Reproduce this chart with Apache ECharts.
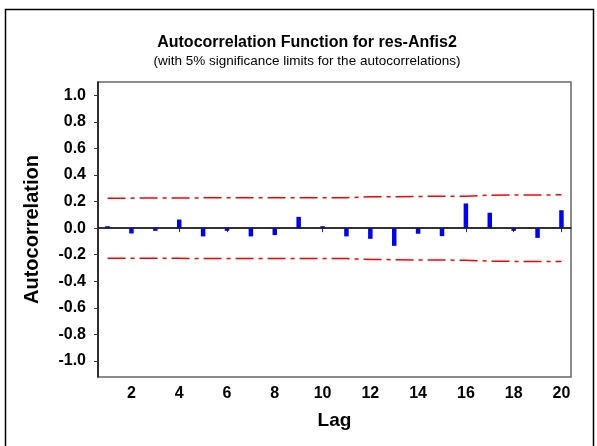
<!DOCTYPE html>
<html>
<head>
<meta charset="utf-8">
<script src="https://cdn.jsdelivr.net/npm/echarts@6/dist/echarts.min.js"></script>
<style>
    html, body { margin: 0; padding: 0; background: #fff; }
    #acf-chart { width: 597px; height: 446px; }
</style>
</head>
<body>
<div id="acf-chart"></div>
<script>
    // Chart data
    const lags = [1, 2, 3, 4, 5, 6, 7, 8, 9, 10, 11, 12, 13, 14, 15, 16, 17, 18, 19, 20];
    const acfValues = [0.015, -0.04, -0.02, 0.065, -0.062, -0.02, -0.062, -0.052, 0.085, 0.015,
                       -0.062, -0.08, -0.133, -0.042, -0.06, 0.186, 0.116, -0.02, -0.073, 0.135];
    const upperLimit = [0.226, 0.226, 0.227, 0.227, 0.228, 0.228, 0.228, 0.228, 0.229, 0.229,
                        0.229, 0.236, 0.237, 0.239, 0.240, 0.241, 0.248, 0.250, 0.250, 0.251];
    const lowerLimit = [-0.226, -0.226, -0.227, -0.227, -0.228, -0.228, -0.228, -0.228, -0.229, -0.229,
                        -0.229, -0.236, -0.237, -0.239, -0.240, -0.241, -0.248, -0.250, -0.250, -0.251];
    const lagTicks = [2, 4, 6, 8, 10, 12, 14, 16, 18, 20];
    const acfTicks = [-1.0, -0.8, -0.6, -0.4, -0.2, 0.0, 0.2, 0.4, 0.6, 0.8, 1.0];

    let chart = echarts.init(document.getElementById('acf-chart'));

    const boldFont = { fontFamily: 'Liberation Sans', fontWeight: 'bold', color: '#000' };
    const limitDash = [18, 5, 4, 5];

    let option = {
        animation: false,
        title: {
            text: 'Autocorrelation Function for res-Anfis2',
            subtext: '(with 5% significance limits for the autocorrelations)',
            left: 302,
            top: 30,
            textAlign: 'center',
            itemGap: 3,
            textStyle: { ...boldFont, fontSize: 16 },
            subtextStyle: { fontFamily: 'Liberation Sans', fontSize: 13.5, color: '#000' }
        },
        graphic: [{
            // outer frame
            type: 'rect',
            shape: { x: 5.5, y: 9.5, width: 588, height: 460 },
            style: { fill: 'none', stroke: '#000', lineWidth: 1.5 },
            silent: true
        }],
        grid: {
            left: 98, right: 26, top: 82, bottom: 69,
            show: true,
            borderColor: '#666',
            borderWidth: 1.5
        },
        xAxis: {
            type: 'value',
            min: 0.6,
            max: 20.4,
            name: 'Lag',
            nameLocation: 'middle',
            nameGap: 34,
            nameTextStyle: { ...boldFont, fontSize: 19 },
            axisLine: { lineStyle: { color: '#333', width: 1.5 } },
            axisTick: { customValues: lagTicks, length: 4, lineStyle: { color: '#333' } },
            axisLabel: { customValues: lagTicks, margin: 9, ...boldFont, fontSize: 16 },
            splitLine: { show: false }
        },
        yAxis: {
            type: 'value',
            min: -1.12,
            max: 1.1,
            name: 'Autocorrelation',
            nameLocation: 'middle',
            nameGap: 56,
            nameTextStyle: { ...boldFont, fontSize: 20 },
            axisLine: { show: true, lineStyle: { color: '#111', width: 1.5 } },
            axisTick: { show: true, customValues: acfTicks, length: 4, lineStyle: { color: '#333' } },
            axisLabel: {
                customValues: acfTicks,
                margin: 12,
                ...boldFont,
                fontSize: 16,
                formatter: v => v.toFixed(1)
            },
            splitLine: { show: false }
        },
        series: [
            {
                name: 'ACF',
                type: 'bar',
                barWidth: 4.5,
                itemStyle: { color: '#0000ff' },
                data: lags.map((lag, i) => [lag, acfValues[i]]),
                markLine: {
                    silent: true,
                    symbol: 'none',
                    label: { show: false },
                    lineStyle: { color: '#222', width: 1.5, type: 'solid' },
                    data: [{ yAxis: 0 }]
                },
                z: 3
            },
            {
                name: 'Upper limit',
                type: 'line',
                showSymbol: false,
                lineStyle: { color: '#ff0000', width: 1.5, type: limitDash },
                data: lags.map((lag, i) => [lag, upperLimit[i]])
            },
            {
                name: 'Lower limit',
                type: 'line',
                showSymbol: false,
                lineStyle: { color: '#ff0000', width: 1.5, type: limitDash },
                data: lags.map((lag, i) => [lag, lowerLimit[i]])
            }
        ]
    };

    chart.setOption(option);
</script>
</body>
</html>
